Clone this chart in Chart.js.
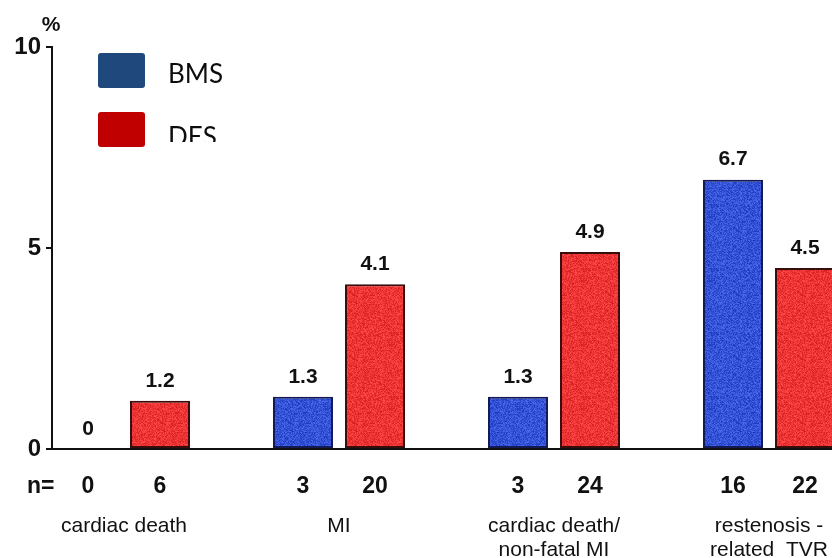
<!DOCTYPE html>
<html>
<head>
<meta charset="utf-8">
<script src="https://cdn.jsdelivr.net/npm/chart.js@4/dist/chart.umd.min.js"></script>
<style>
  html, body { margin: 0; padding: 0; background: #fff; overflow: hidden; }
  #wrap { position: relative; width: 832px; height: 558px; }
</style>
</head>
<body>
<div id="wrap"><canvas id="c" width="832" height="558"></canvas></div>
<script>
// Event rates (%) and patient counts for bare-metal vs drug-eluting stents
const categories = [['cardiac death'], ['MI'], ['cardiac death/', 'non-fatal MI'], ['restenosis -', 'related  TVR']];
const seriesNames = ['BMS', 'DES'];
const bmsRates = [0, 1.3, 1.3, 6.7];
const desRates = [1.2, 4.1, 4.9, 4.5];
const bmsCounts = [0, 3, 3, 16];
const desCounts = [6, 20, 24, 22];
const yTicks = [0, 5, 10];

const FONT = '"Liberation Sans", Arial, Helvetica, sans-serif';
const INK = '#111111';

// Speckled fill for the bars (deterministic hash noise)
function grainPattern(r, g, b, amp) {
  const size = 64;
  const tile = document.createElement('canvas');
  tile.width = tile.height = size;
  const tctx = tile.getContext('2d');
  const img = tctx.createImageData(size, size);
  for (let y = 0; y < size; y++) {
    for (let x = 0; x < size; x++) {
      const h = Math.sin(x * 12.9898 + y * 78.233) * 43758.5453;
      const f = h - Math.floor(h);
      const k = (f - 0.5) * amp;
      const p = (y * size + x) * 4;
      img.data[p] = Math.max(0, Math.min(255, r + k));
      img.data[p + 1] = Math.max(0, Math.min(255, g + k));
      img.data[p + 2] = Math.max(0, Math.min(255, b + k));
      img.data[p + 3] = 255;
    }
  }
  tctx.putImageData(img, 0, 0);
  return tctx.createPattern(tile, 'repeat');
}

const ctx = document.getElementById('c').getContext('2d');
const bmsFill = grainPattern(52, 82, 214, 50);
const desFill = grainPattern(236, 52, 52, 45);
const legendColors = ['#1f497d', '#c00000'];

const toPoints = (vals) => vals.map((v, i) => ({ x: i, y: v }));

// Value labels, n= row, category names, % unit and legend
const annotate = {
  id: 'annotate',
  afterDatasetsDraw(chart) {
    const c = chart.ctx;
    const xs = chart.scales.x;
    c.save();
    c.fillStyle = INK;
    c.textAlign = 'center';
    c.textBaseline = 'middle';

    // values above bars
    c.font = 'bold 21px ' + FONT;
    chart.data.datasets.forEach((ds, d) => {
      chart.getDatasetMeta(d).data.forEach((bar, i) => {
        c.fillText(String(ds.data[i].y), bar.x, bar.y - 20);
      });
    });

    // n= row
    const counts = [bmsCounts, desCounts];
    c.font = 'bold 23px ' + FONT;
    c.textAlign = 'left';
    c.fillText('n=', 27, 487);
    c.textAlign = 'center';
    counts.forEach((arr, d) => {
      chart.getDatasetMeta(d).data.forEach((bar, i) => {
        c.fillText(String(arr[i]), bar.x, 487);
      });
    });

    // category names
    c.font = '21px ' + FONT;
    c.textBaseline = 'alphabetic';
    categories.forEach((lines, i) => {
      const cx = xs.getPixelForValue(i);
      lines.forEach((t, j) => c.fillText(t, cx, 532 + j * 24));
    });

    // unit
    c.font = 'bold 21px ' + FONT;
    c.textBaseline = 'middle';
    c.fillText('%', 51, 25);

    // legend
    const boxes = [53, 112];
    const baselines = [83, 146];
    seriesNames.forEach((name, i) => {
      c.fillStyle = legendColors[i];
      c.beginPath();
      c.roundRect(98, boxes[i], 47, 35, 3);
      c.fill();
    });
    c.save();
    c.beginPath();
    c.rect(150, 40, 120, 102);
    c.clip();
    c.fillStyle = '#0d0d0d';
    c.font = '26px Lato, "Open Sans", sans-serif';
    c.textAlign = 'left';
    c.textBaseline = 'alphabetic';
    seriesNames.forEach((name, i) => {
      c.fillText(name, 168, baselines[i]);
    });
    c.restore();
    c.restore();
  }
};

new Chart(ctx, {
  type: 'bar',
  data: {
    datasets: [
      {
        label: seriesNames[0],
        data: toPoints(bmsRates),
        backgroundColor: bmsFill,
        borderColor: '#141a55',
        borderWidth: 2,
        borderSkipped: false
      },
      {
        label: seriesNames[1],
        data: toPoints(desRates),
        backgroundColor: desFill,
        borderColor: '#3a0d0d',
        borderWidth: 2,
        borderSkipped: false
      }
    ]
  },
  options: {
    responsive: false,
    animation: false,
    events: [],
    layout: { padding: { top: 47, left: 0, right: 0, bottom: 0 } },
    categoryPercentage: 0.67,
    barPercentage: 0.833,
    plugins: {
      legend: { display: false },
      tooltip: { enabled: false }
    },
    scales: {
      x: {
        type: 'linear',
        offset: false,
        min: -0.3349,
        max: 3.293,
        afterBuildTicks: (s) => { s.ticks = categories.map((_, i) => ({ value: i })); },
        afterFit: (s) => { s.height = 109; },
        ticks: { display: false },
        grid: { display: false },
        border: { display: true, color: INK, width: 2 }
      },
      y: {
        min: 0,
        max: 10,
        afterBuildTicks: (s) => { s.ticks = yTicks.map(v => ({ value: v })); },
        afterFit: (s) => { s.width = 52; },
        ticks: {
          color: INK,
          padding: 5,
          font: { family: FONT, size: 24, weight: 'bold' }
        },
        grid: {
          drawOnChartArea: false,
          drawTicks: true,
          tickLength: 6,
          color: INK,
          lineWidth: 2
        },
        border: { display: true, color: INK, width: 2 }
      }
    }
  },
  plugins: [annotate]
});
</script>
</body>
</html>
